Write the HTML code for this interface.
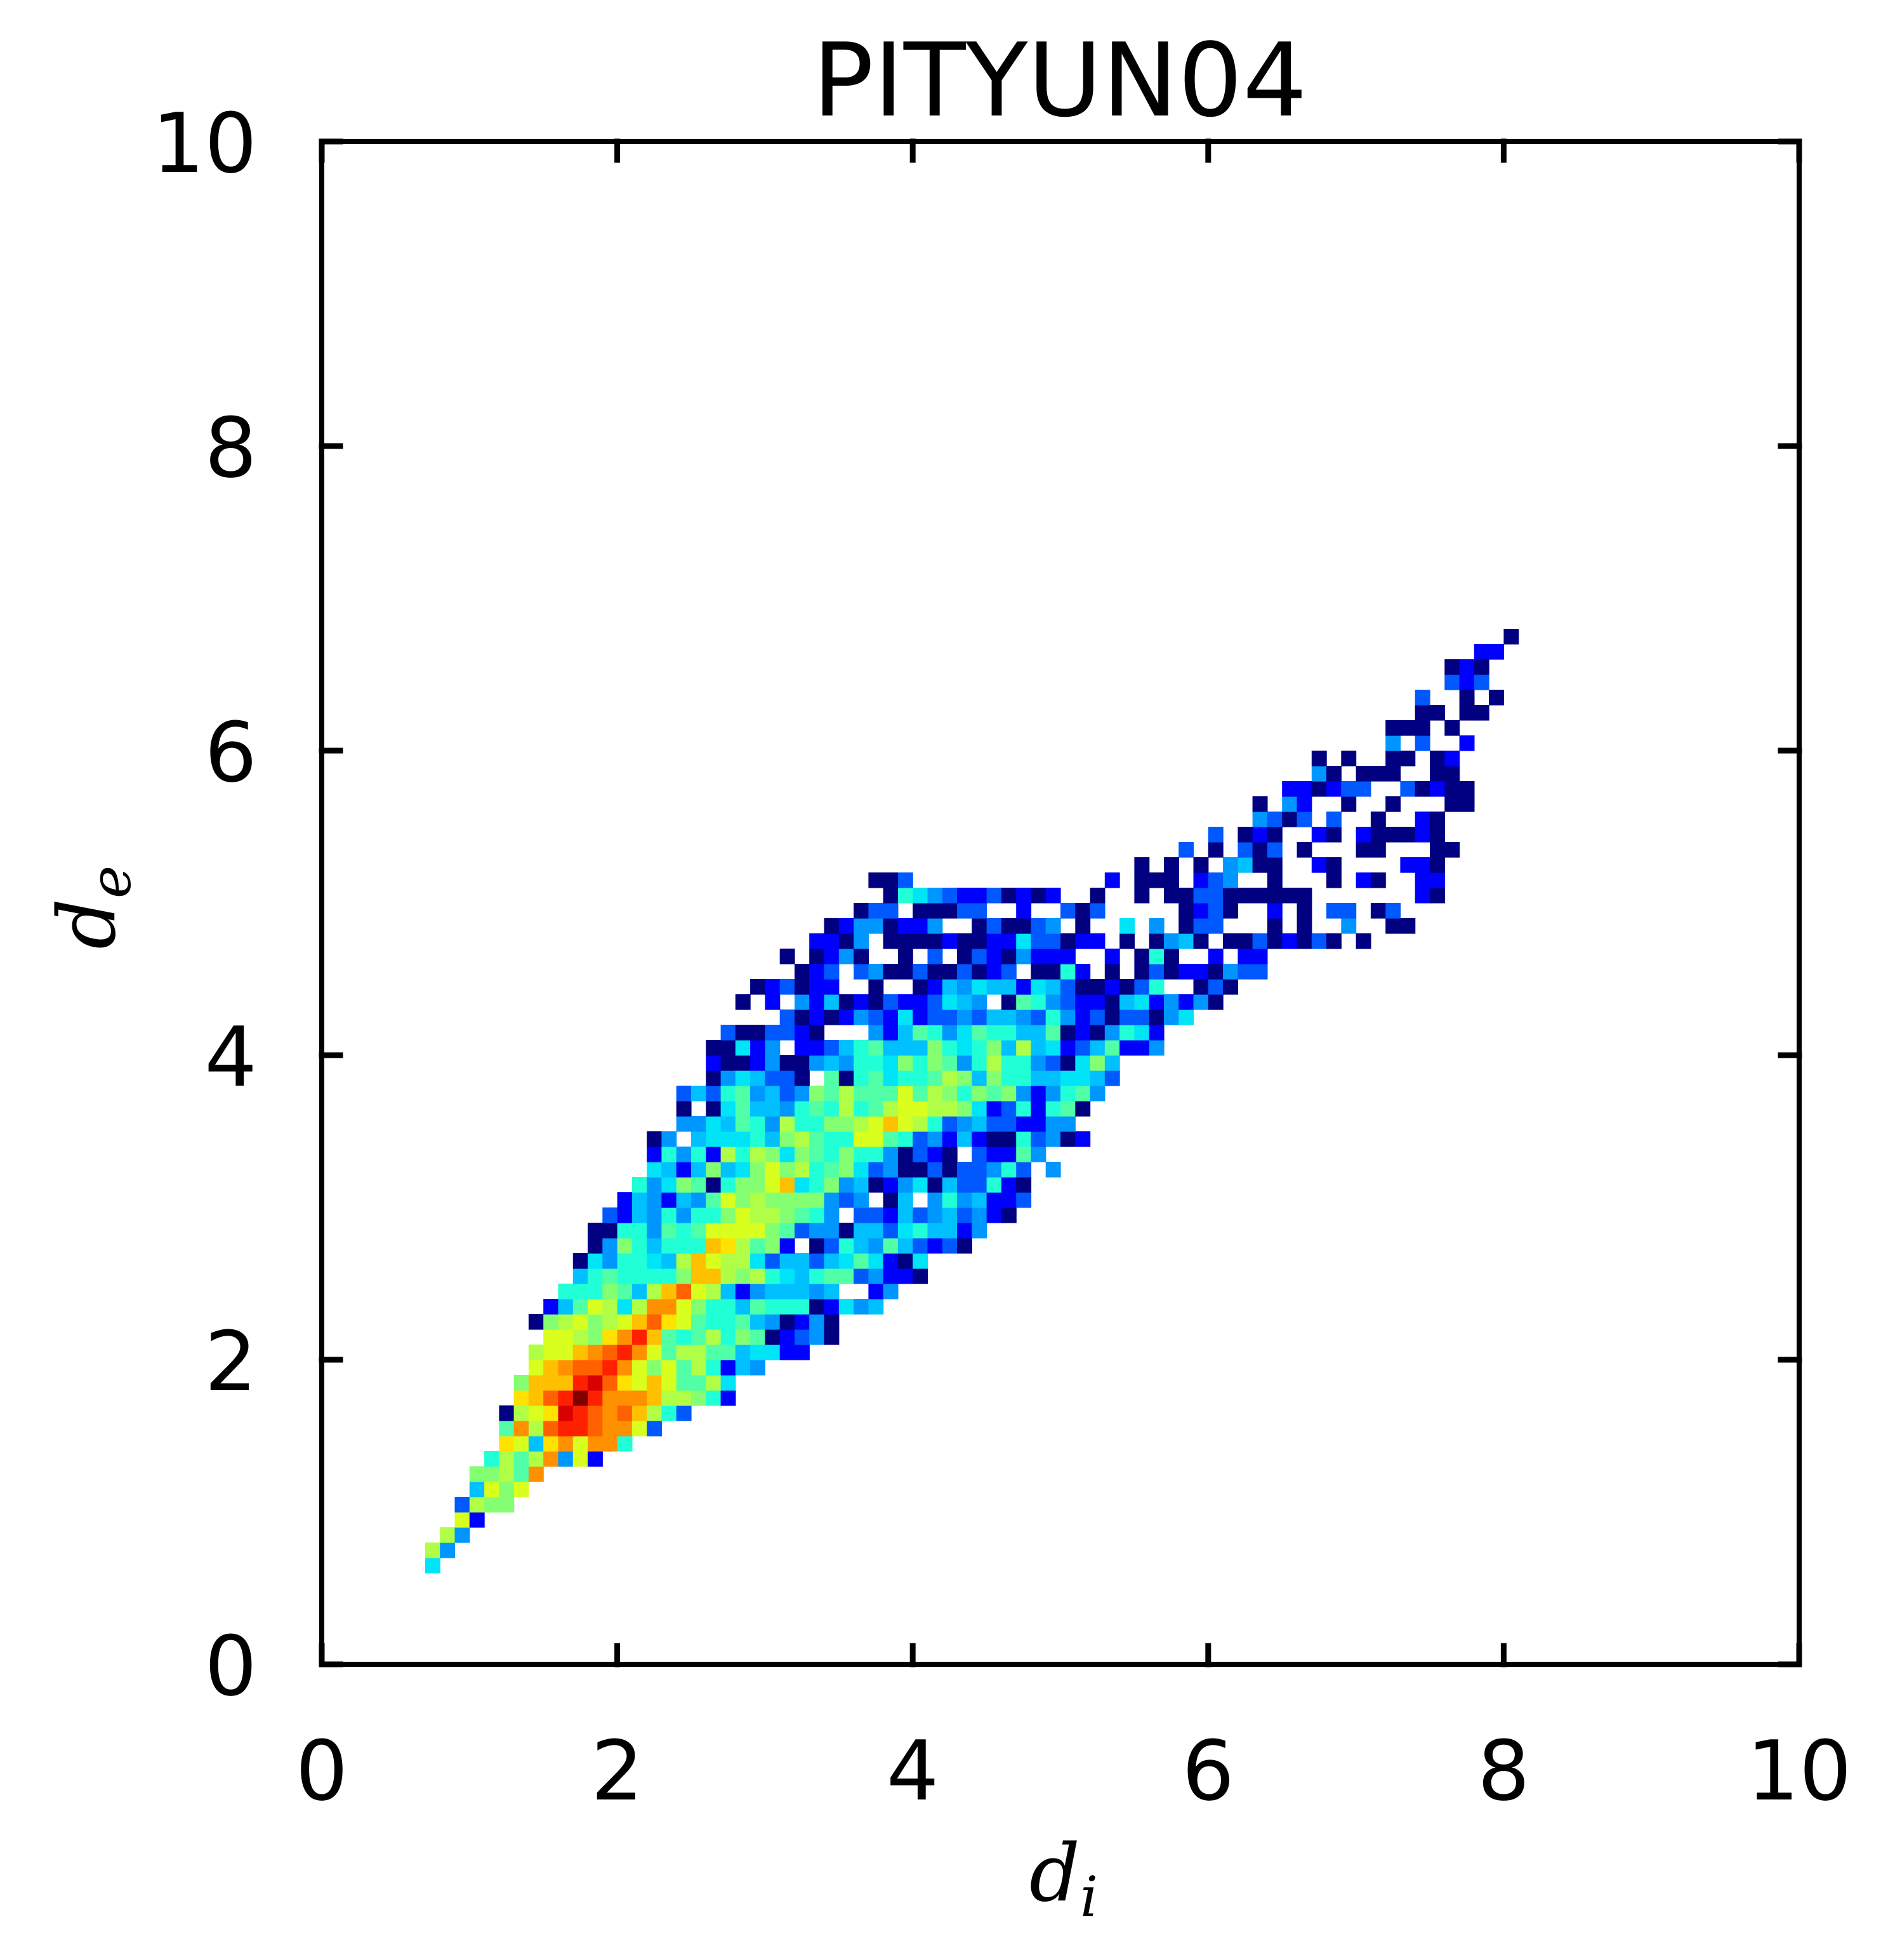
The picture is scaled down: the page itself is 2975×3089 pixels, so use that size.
<!DOCTYPE html>
<html><head><meta charset="utf-8"><style>
html,body{margin:0;padding:0;background:#fff;}
svg{display:block;}
</style></head><body>
<svg id="chart" xmlns="http://www.w3.org/2000/svg" width="2975" height="3089" viewBox="0 0 2975 3089">
<rect width="2975" height="3089" fill="#fff"/>
<text x="1670" y="182" font-family="DejaVu Sans, Liberation Sans, sans-serif" font-size="160" text-anchor="middle">PITYUN04</text>
<g id="cells"></g>
<g id="axes"></g>
<text x="1676" y="2995" font-family="DejaVu Serif, Liberation Serif, serif" font-style="italic" font-size="125" text-anchor="middle">d<tspan font-size="88" dy="25">i</tspan></text>
<text transform="translate(180,1430) rotate(-90)" font-family="DejaVu Serif, Liberation Serif, serif" font-style="italic" font-size="125" text-anchor="middle">d<tspan font-size="88" dy="25">e</tspan></text>
</svg>
<script>
// bin size 0.1; row m => de = 0.6 + 0.1*m ; col k => di = 0.7 + 0.1*k
const binSize = 0.1;
const rowDe0 = 0.6;
const colDi0 = 0.7;
// each row: [start column, density level string] ('.' = empty, 1..9,a..i = increasing density)
const rowStarts = [0,0,1,2,2,3,3,4,5,5,5,6,6,7,7,8,7,8,9,10,10,11,11,12,13,14,15,15,15,17,17,17,19,19,19,20,24,21,22,25,24,26,27,29,31,30,48,51,53,56,56,58,60,60,65,65,67,67,69,69,71,73];
const rowLevels = [
"6","a4","a4","b2","3a99","5b9b","99a8e","7a8ae4b2","cb5cebee7","8eafggfeeb3",
"1abchgfefda73","cdfgigeeedaa972","9dddghfcbdb88a6","bdeffgeb9b8a7254","abbdefgeb8aa8856622",
"bba9cegd878a79812341","19ab9abdfcb8778541241","258ba6aeeb9775877712645","777985adfba52455545..24","57877779dda9a76578834221",
"1647765adbaa635535686216","14975777dca892.13754853231","11774878bbbb983441553675524","325474779baa9874.33253453421","2542548b9a9999434.15.4745223",
"746981799bd6794512461533721","65259569b9a789634113133473.4","27472a7a9698797741321.32284","14.5666759a877bb87342521173412","4465874a7799abdba7345332244",
"1.168554787a78abbaa962372781","35378453498a888b8a97989424784","1465331.81786778a95977556653","2112411454776979847a77431695","11624.223578555976795a562358224",
"3113321...42587468775581214762","3121243262334355437423133146","1.2.4251213223654.187432215624241","123122..1..12546552653112137..131","123.34113113123.1172.1.131221433",
"1.1241..1.3.1321422 2..2.171..2.22","2214.1111211226331 22.1.1451.11312131.1","12441224..13113 4.1..6.4.133...1.1..4..11","133.1113 3..2..313.....1231..2.1.33.13","176432231212..1..1.1133111111.......21",
"113.............2.111.234..1...1.21..22","1.1.1.4511..21....221","3.1.313.1...11...11","3.121..21.211121","4313.3..1..21",
"1.42..1..1...11","221233..31211","41.111..11","1.1..11.12","4.3..2",
"111.1","11.11","3..1.1","323","121","22","1"
];
const levelKeys = "123456789abcdefghi";
const levelColors = ["#000080","#0000ff","#0058ff","#0096ff","#00c0ff","#00e4f8","#20ffd6","#50ffa6","#84ff72","#b0ff46","#d8ff1e","#ffe200","#ffc000","#ff9000","#ff6000","#ff2000","#d80000","#800000"];
const xTicks = [0,2,4,6,8,10];
const yTicks = [0,2,4,6,8,10];

const L=507, R=2835, T=223, B=2623;
const xs = v => L + (v/10)*(R-L);
const ys = v => B - (v/10)*(B-T);
const NS="http://www.w3.org/2000/svg";
const cells=document.getElementById('cells');
rowLevels.forEach((s,m)=>{
  const str=s.replace(/ /g,'');
  for(let j=0;j<str.length;j++){
    const ch=str[j]; const idx=levelKeys.indexOf(ch);
    if(idx<0) continue;
    const di=colDi0+(rowStarts[m]+j)*binSize, de=rowDe0+m*binSize;
    const x0=xs(di), x1=xs(di+binSize), y0=ys(de+binSize), y1=ys(de);
    const r=document.createElementNS(NS,'rect');
    r.setAttribute('x',x0.toFixed(1)); r.setAttribute('y',y0.toFixed(1));
    r.setAttribute('width',(x1-x0+0.6).toFixed(1)); r.setAttribute('height',(y1-y0+0.6).toFixed(1));
    r.setAttribute('fill',levelColors[idx]);
    
    
    cells.appendChild(r);
  }
});
const axes=document.getElementById('axes');
function line(x1,y1,x2,y2,w,name){
  const l=document.createElementNS(NS,'line');
  l.setAttribute('x1',x1);l.setAttribute('y1',y1);l.setAttribute('x2',x2);l.setAttribute('y2',y2);
  l.setAttribute('stroke','#000');l.setAttribute('stroke-width',w);l.setAttribute('stroke-linecap','square');
  
  
  axes.appendChild(l);
}
function label(x,y,t,anchor,name){
  const e=document.createElementNS(NS,'text');
  e.setAttribute('x',x);e.setAttribute('y',y);e.setAttribute('text-anchor',anchor);
  e.setAttribute('font-family','DejaVu Sans, Liberation Sans, sans-serif');e.setAttribute('font-size','130');
  e.textContent=t;
  
  
  axes.appendChild(e);
}
line(L,T,R,T,8,'plot-frame-top');line(L,B,R,B,8,'plot-frame-bottom');
line(L,T,L,B,8,'plot-frame-left');line(R,T,R,B,8,'plot-frame-right');
xTicks.forEach(v=>{
  const x=xs(v);
  line(x,B,x,B-29,9,'x-tick');line(x,T,x,T+29,9,'x-tick-top');
  label(x,2836,String(v),'middle','x-tick-label');
});
yTicks.forEach(v=>{
  const y=ys(v);
  line(L,y,L+29,y,9,'y-tick');line(R,y,R-29,y,9,'y-tick-right');
  label(405,y+48,String(v),'end','y-tick-label');
});
</script>
</body></html>
